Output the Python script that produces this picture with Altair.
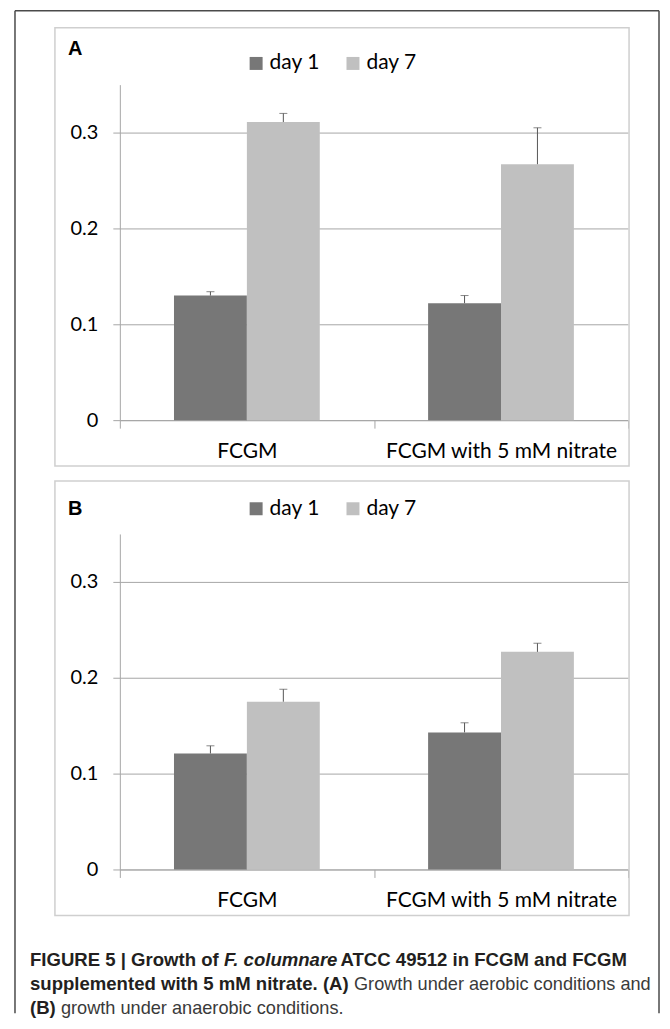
import altair as alt
import pandas as pd

# ---------------- data ----------------
media = ["FCGM", "FCGM with 5 mM nitrate"]
days = ["day 1", "day 7"]
y_ticks = [0, 0.1, 0.2, 0.3]
y_max = 0.35

a_day1 = [0.130, 0.122]
a_day1_err = [0.004, 0.008]
a_day7 = [0.311, 0.267]
a_day7_err = [0.009, 0.038]

b_day1 = [0.121, 0.143]
b_day1_err = [0.008, 0.010]
b_day7 = [0.175, 0.227]
b_day7_err = [0.013, 0.009]

bar_colors = ["#777777", "#c0c0c0"]

# ---------------- styling ----------------
W, H = 509, 336
GRID = "#a6a6a6"
ERR = "#555555"
FRAME = "#cfcfcf"
OUTER = "#4a4a4a"
TICK_FONT = "Lato"
CAP_FONT = "Liberation Sans"


def make_df(d1, e1, d7, e7):
    rows = []
    for i, m in enumerate(media):
        rows.append({"medium": m, "day": days[0], "value": d1[i], "top": d1[i] + e1[i]})
        rows.append({"medium": m, "day": days[1], "value": d7[i], "top": d7[i] + e7[i]})
    return pd.DataFrame(rows)


def one():
    return alt.Chart(pd.DataFrame({"k": [0]}))


def text_layer(txt, x, y, weight="normal", style="normal", size=19, font=CAP_FONT, color="#000000"):
    return alt.Chart(pd.DataFrame({"t": [txt]})).mark_text(
        align="left", baseline="alphabetic", font=font, fontSize=size,
        fontWeight=weight, fontStyle=style, color=color,
    ).encode(text="t:N", x=alt.value(x), y=alt.value(y))


def panel(df, letter, letter_y, legend_y, frame_top, extra=None):
    base = alt.Chart(df)
    x = alt.X(
        "medium:N", sort=media, title=None,
        scale=alt.Scale(paddingInner=0, paddingOuter=0),
        axis=alt.Axis(
            labelAngle=0, labelFont=TICK_FONT, labelFontSize=21, labelColor="#000000",
            labelPadding=12, labelLimit=400, tickSize=8, tickBand="extent",
            tickColor=GRID, domainColor=GRID, grid=False,
        ),
    )
    xoff = alt.XOffset("day:N", sort=days, scale=alt.Scale(paddingInner=0, paddingOuter=0.743))
    y = alt.Y(
        "value:Q", title=None,
        scale=alt.Scale(domain=[0, y_max], nice=False, zero=True),
        axis=alt.Axis(
            values=y_ticks, format="~g", labelFont=TICK_FONT, labelFontSize=20,
            labelColor="#000000", labelPadding=15, tickSize=7, tickColor=GRID,
            domainColor=GRID, grid=True, gridColor=GRID,
        ),
    )
    color = alt.Color(
        "day:N",
        scale=alt.Scale(domain=days, range=bar_colors),
        legend=alt.Legend(
            title=None, orient="none", direction="horizontal", legendX=126, legendY=legend_y,
            symbolType="square", symbolSize=169, symbolStrokeWidth=0, labelFont=TICK_FONT,
            labelFontSize=21, labelColor="#000000", labelOffset=3, columnPadding=22,
        ),
    )
    bars = base.mark_bar().encode(x=x, xOffset=xoff, y=y, color=color)
    err = base.mark_rule(color=ERR, strokeWidth=1).encode(x=x, xOffset=xoff, y="value:Q", y2="top:Q")
    cap = base.mark_tick(color=ERR, thickness=1, size=8, orient="horizontal").encode(
        x=x, xOffset=xoff, y="top:Q"
    )
    frame = one().mark_rect(fillOpacity=0, stroke=FRAME, strokeWidth=1.5).encode(
        x=alt.value(-65), x2=alt.value(510), y=alt.value(frame_top), y2=alt.value(382)
    )
    lab = text_layer(letter, -52, letter_y, weight="bold", size=20)
    layers = [frame, bars, err, cap, lab]
    if extra:
        layers += extra
    return alt.layer(*layers).properties(width=W, height=H)


# outer border (left, top, right) drawn in panel A coordinates, plus invisible
# anchors that set the left and right edges of the drawing
RB = 540
outer = [
    one().mark_rule(color="#ffffff", strokeWidth=0.1, opacity=0).encode(
        x=alt.value(-111), y=alt.value(-60), y2=alt.value(-50)),
    one().mark_rule(color="#ffffff", strokeWidth=0.1, opacity=0).encode(
        x=alt.value(RB + 2), y=alt.value(-60), y2=alt.value(-50)),
    one().mark_rule(color=OUTER, strokeWidth=1.5).encode(
        x=alt.value(-105), y=alt.value(-74), y2=alt.value(930)),
    one().mark_rule(color=OUTER, strokeWidth=1.5).encode(
        x=alt.value(-105), x2=alt.value(RB), y=alt.value(-74)),
    one().mark_rule(color=OUTER, strokeWidth=1.5).encode(
        x=alt.value(RB), y=alt.value(-74), y2=alt.value(930)),
]

# caption, in panel B coordinates (plot origin at page 119, 532)
cs = 18.6
cr = 18.2
cx = -90
sp = 5.2  # width of a space (svg trims leading blanks)
caption = [
    text_layer("FIGURE 5 | Growth of", cx, 433, weight="bold", size=cs, color="#231f20"),
    text_layer("F. columnare", cx + 194.3, 433, weight="bold", style="italic", size=cs, color="#231f20"),
    text_layer("ATCC 49512 in FCGM and FCGM", cx + 311.0, 433, weight="bold", size=cs, color="#231f20"),
    text_layer("supplemented with 5 mM nitrate. (A)", cx, 457, weight="bold", size=cs, color="#231f20"),
    text_layer("Growth under aerobic conditions and", cx + 319.3 + sp, 457, size=cr, color="#3a3a3a"),
    text_layer("(B)", cx, 481, weight="bold", size=cs, color="#231f20"),
    text_layer("growth under anaerobic conditions.", cx + 25.8 + sp, 481, size=cr, color="#3a3a3a"),
]

df_a = make_df(a_day1, a_day1_err, a_day7, a_day7_err)
df_b = make_df(b_day1, b_day1_err, b_day7, b_day7_err)

pa = panel(df_a, "A", -30, -32, -57, extra=outer)
pb = panel(df_b, "B", -19, -36, -53, extra=caption)

chart = alt.vconcat(pa, pb, spacing=114, bounds="flush").resolve_legend(
    color="independent"
).properties(
    padding=0,
    background="#ffffff",
).configure_view(stroke="transparent")

chart.save("out.html", embed_options={"renderer": "svg", "actions": False})
